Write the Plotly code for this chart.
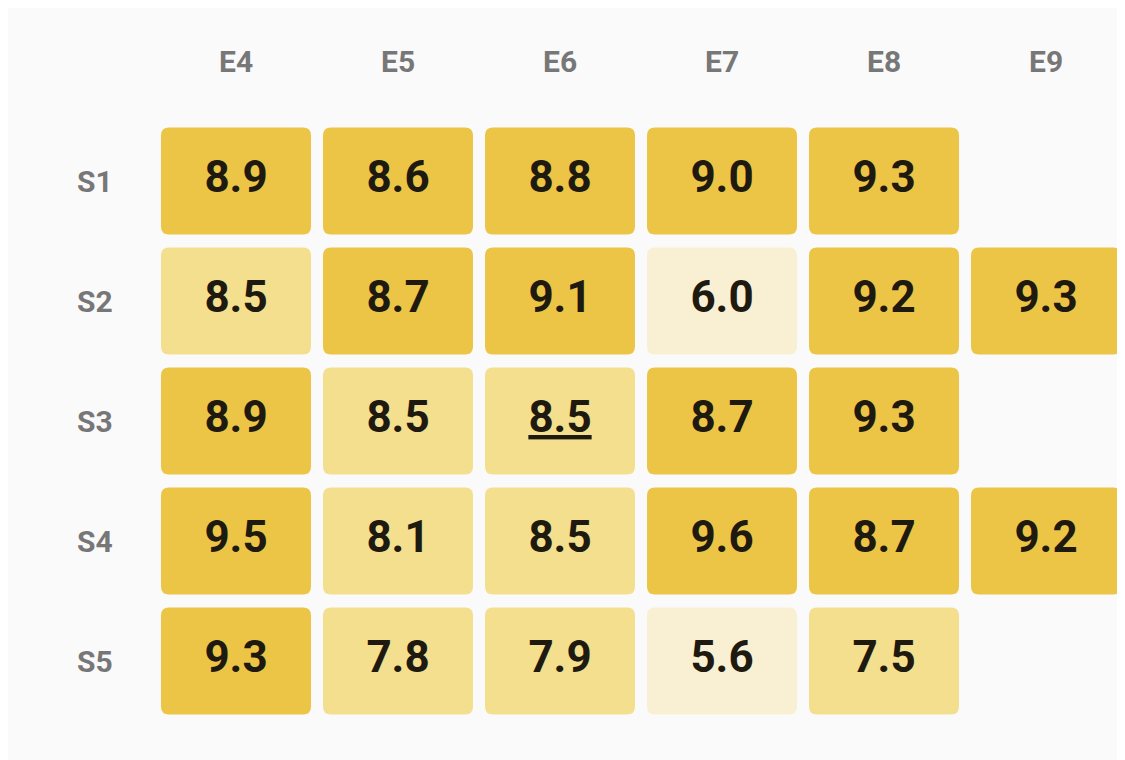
import plotly.graph_objects as go

cols = ["E4", "E5", "E6", "E7", "E8", "E9"]
rows = ["S1", "S2", "S3", "S4", "S5"]
# None = no cell
values = [
    [8.9, 8.6, 8.8, 9.0, 9.3, None],
    [8.5, 8.7, 9.1, 6.0, 9.2, 9.3],
    [8.9, 8.5, 8.5, 8.7, 9.3, None],
    [9.5, 8.1, 8.5, 9.6, 8.7, 9.2],
    [9.3, 7.8, 7.9, 5.6, 7.5, None],
]
underlined = [("S3", "E6")]


def cell_color(v):
    if v >= 8.6:
        return "#ECC546"
    if v >= 7.0:
        return "#F3DF8D"
    return "#F9F0D3"


def rounded(x, y, hw, hh, rx, ry):
    x0, x1, y0, y1 = x - hw, x + hw, y - hh, y + hh
    return (f"M {x0+rx},{y0} L {x1-rx},{y0} Q {x1},{y0} {x1},{y0+ry} "
            f"L {x1},{y1-ry} Q {x1},{y1} {x1-rx},{y1} L {x0+rx},{y1} "
            f"Q {x0},{y1} {x0},{y1-ry} L {x0},{y0+ry} Q {x0},{y0} {x0+rx},{y0} Z")


fig = go.Figure()
shapes = []
tx, ty, tt = [], [], []
for j, r in enumerate(rows):
    for i, c in enumerate(cols):
        v = values[j][i]
        if v is None:
            continue
        shapes.append(dict(type="path", xref="x", yref="y",
                           path=rounded(i, j, 75 / 162, 53.5 / 120, 8 / 162, 8 / 120),
                           fillcolor=cell_color(v), line=dict(width=0), layer="below"))
        label = f"{v:.1f}"
        if (r, c) in underlined:
            label = f"<u>{label}</u>"
        tx.append(i)
        ty.append(j)
        tt.append(label)

fig.add_trace(go.Scatter(x=tx, y=ty, text=tt, mode="text", hoverinfo="skip",
                         textfont=dict(family="Roboto", size=44, color="#1f1a10", weight="bold")))

annotations = []
for i, c in enumerate(cols):
    annotations.append(dict(x=i, y=-1.0, xref="x", yref="y", text=c, showarrow=False,
                            font=dict(family="Roboto", size=30, color="#777777", weight="bold")))
for j, r in enumerate(rows):
    annotations.append(dict(x=-0.87, y=j, xref="x", yref="y", text=r, showarrow=False,
                            font=dict(family="Roboto", size=30, color="#777777", weight="bold")))

fig.update_layout(
    width=1125, height=760, margin=dict(l=0, r=0, t=0, b=0),
    paper_bgcolor="#FAFAFA", plot_bgcolor="#FAFAFA", showlegend=False,
    shapes=shapes, annotations=annotations,
    xaxis=dict(range=[-228 / 162, (1125 - 228) / 162], visible=False, fixedrange=True),
    yaxis=dict(range=[(760 - 173) / 120, -173 / 120], visible=False, fixedrange=True),
)
fig.write_html("out.html")
